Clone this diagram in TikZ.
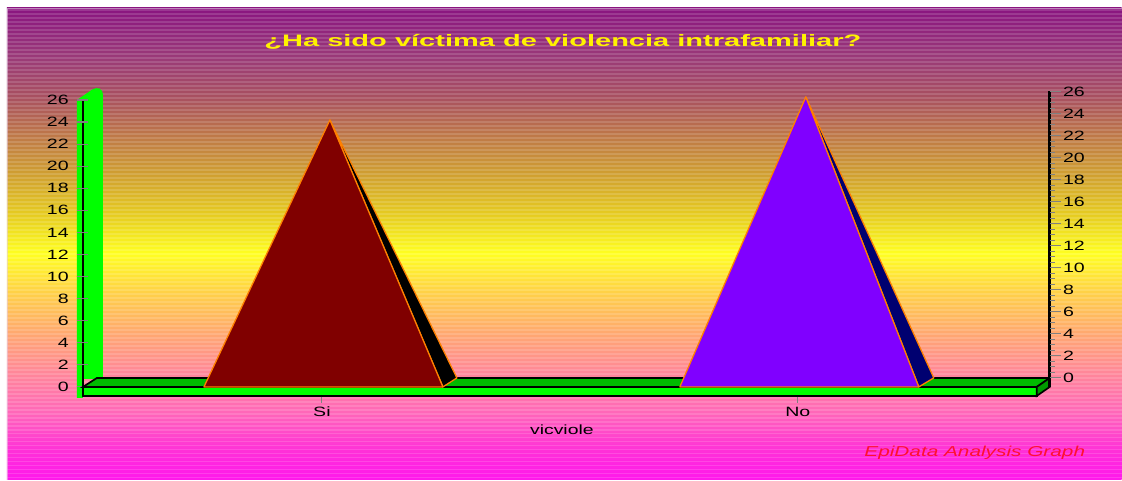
\documentclass[tikz,border=0pt]{standalone}
\usepackage{fontspec}
\setmainfont{Liberation Sans}
\newfontfamily\widefont[FakeStretch=1.45]{Liberation Sans}
\newfontfamily\titlefont[FakeStretch=1.75]{Liberation Sans}
\usepackage{xcolor}
\usepackage{tikz}

\definecolor{bgA}{HTML}{8A1580}
\definecolor{bgB}{HTML}{9A3A78}
\definecolor{bgC}{HTML}{A85060}
\definecolor{bgD}{HTML}{BE7848}
\definecolor{bgE}{HTML}{D0A030}
\definecolor{bgF}{HTML}{E6CC20}
\definecolor{bgG}{HTML}{FFFF20}
\definecolor{bgH}{HTML}{FFD048}
\definecolor{bgI}{HTML}{FFA870}
\definecolor{bgJ}{HTML}{FF8898}
\definecolor{bgK}{HTML}{FF68B8}
\definecolor{bgL}{HTML}{FF30D8}
\definecolor{bgM}{HTML}{FF18EC}
\definecolor{floortop}{HTML}{00BB00}
\definecolor{floorfront}{HTML}{00FF00}
\definecolor{floorside}{HTML}{009A00}
\definecolor{siface}{HTML}{800000}
\definecolor{noface}{HTML}{8000FF}
\definecolor{noside}{HTML}{000070}
\definecolor{edgeorange}{HTML}{FF8000}
\definecolor{epired}{HTML}{FF1030}

\pgfdeclareverticalshading{bgfade}{100bp}{color(0bp)=(bgM); color(25bp)=(bgM);
  color(28.1bp)=(bgL); color(32.3bp)=(bgK); color(36.5bp)=(bgJ); color(40.6bp)=(bgI);
  color(44.8bp)=(bgH); color(49bp)=(bgG); color(53.1bp)=(bgF); color(57.3bp)=(bgE);
  color(61.5bp)=(bgD); color(65.6bp)=(bgC); color(69.8bp)=(bgB); color(75bp)=(bgA);
  color(100bp)=(bgA)}

\begin{document}
\begin{tikzpicture}[x=0.025cm,y=-0.025cm,
  axtick/.style={gray,line width=0.8pt},
  ylab/.style={font=\fontsize{9.6}{11}\widefont,inner sep=0pt},
  face/.style={draw=edgeorange,line width=0.9pt,line join=round}]

  % background
  \fill[white] (0,0) rectangle (1122,480);
  \shade[shading=bgfade] (7,8) rectangle (1122,480);
  \foreach \s in {9,13,...,477}
    \fill[white,opacity=0.14] (7,\s) rectangle (1122,\s+1.6);
  \draw[white!80!violet,opacity=0.6] (7.5,480) -- (7.5,8.5) -- (1122,8.5);

  % title
  \node[text=yellow,font=\fontsize{11.8}{13}\titlefont\bfseries] (title) at (563,42)
    {¿Ha sido víctima de violencia intrafamiliar?};

  % left wall
  \fill[floorfront] (77,398) -- (77,100) [rounded corners=3pt] -- (96,87) -- (103,90)
    [sharp corners] -- (103,379) -- (83,379) -- (83,398) -- cycle;
  \draw[line width=2pt] (83,100) -- (83,397);

  % left axis
  \foreach \v in {0,2,...,26} {
    \draw[axtick] (77,387-11.04*\v) -- (88,387-11.04*\v);
    \node[ylab,anchor=east] (yl\v) at (69,387-11.04*\v) {\v};
  }

  % floor
  \filldraw[fill=floortop,line width=1.2pt] (83,387) -- (97,378) -- (1050,378) -- (1037,387) -- cycle;
  \filldraw[fill=floorfront,line width=1.2pt] (83,387) rectangle (1037,396);
  \filldraw[fill=floorside,line width=1.2pt] (1037,387) -- (1050,378) -- (1050,387) -- (1037,396) -- cycle;

  % right axis
  \draw[line width=2pt] (1050,91) -- (1050,387);
  \foreach \v in {0,0.5,...,25.5}
    \draw[axtick] (1050,378-11.01*\v) -- (1055,378-11.01*\v);
  \foreach \v in {0,2,...,26} {
    \draw[axtick] (1050,378-11.01*\v) -- (1061,378-11.01*\v);
    \node[ylab,anchor=west] (yr\v) at (1063,378-11.01*\v) {\v};
  }

  % pyramids
  \coordinate (siTop) at (330,120);
  \coordinate (siL) at (204,387);
  \coordinate (siR) at (443,387);
  \coordinate (siB) at (457,378);
  \fill[face,fill=black] (siTop) -- (siR) -- (siB) -- cycle;
  \fill[face,fill=siface] (siL) -- (siTop) -- (siR) -- cycle;

  \coordinate (noTop) at (806,97);
  \coordinate (noL) at (680,387);
  \coordinate (noR) at (919,387);
  \coordinate (noB) at (934,378);
  \fill[face,fill=noside] (noTop) -- (noR) -- (noB) -- cycle;
  \fill[face,fill=noface] (noL) -- (noTop) -- (noR) -- cycle;

  % categories
  \draw[axtick] (322,397) -- (322,403);
  \draw[axtick] (798,397) -- (798,403);
  \node[ylab] (catSi) at (322,412) {Si};
  \node[ylab] (catNo) at (798,412) {No};
  \node[font=\fontsize{9.5}{11}\widefont,inner sep=0pt] (xname) at (562,430) {vicviole};

  \node[text=epired,font=\fontsize{10.2}{12}\widefont\itshape,inner sep=0pt] (epi) at (975,453)
    {EpiData Analysis Graph};
\end{tikzpicture}
\end{document}
